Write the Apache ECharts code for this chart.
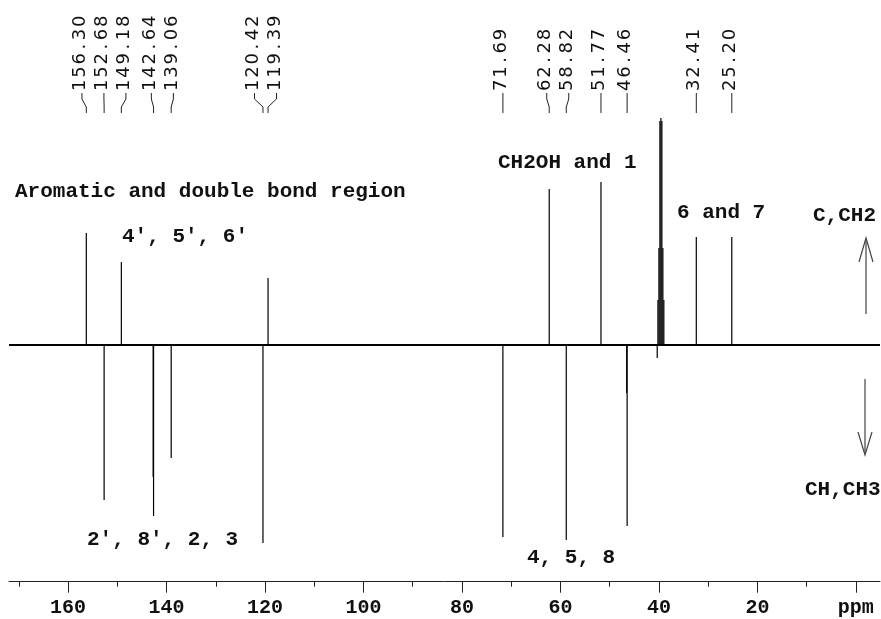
<!DOCTYPE html>
<html><head><meta charset="utf-8">
<script src="https://cdn.jsdelivr.net/npm/echarts@6/dist/echarts.min.js"></script>
<style>html,body{margin:0;padding:0;background:#fff}#c{width:881px;height:619px}</style>
</head><body><div id="c"></div>
<script>
// ---- data ----
const xMinPpm = -4.9, xMaxPpm = 172.0;
const majorTicks = [160, 140, 120, 100, 80, 60, 40, 20, 0];
const minorTicks = [170, 150, 130, 110, 90, 70, 50, 30, 10];
const peakPpm    = [156.30, 152.68, 149.18, 142.72, 142.64, 139.06, 120.42, 119.39, 71.69, 62.28, 58.82, 51.77, 46.55, 46.46,
                    40.35, 40.20, 40.00, 39.80, 39.60, 39.40, 39.20, 39.00, 32.41, 25.20];
const peakHeight = [112, -155, 83, -132, -171, -113, -198, 67, -192, 156, -195, 163, -48, -181,
                    -13, 45, 97, 224, 227, 224, 97, 45, 108, 108];
const labelTexts = ['156.30', '152.68', '149.18', '142.64', '139.06', '120.42', '119.39',
                    '71.69', '62.28', '58.82', '51.77', '46.46', '32.41', '25.20'];
const annotationTexts = ['Aromatic and double bond region', '4\u2032, 5\u2032, 6\u2032', 'CH2OH and 1', '6 and 7',
                         'C,CH2', '2\u2032, 8\u2032, 2, 3', '4, 5, 8', 'CH,CH3'];

// ---- layout (pixels) ----
const annotationPos = [[15, 192], [122, 237], [498, 163], [677, 213], [813, 216], [87, 540], [527, 558], [805, 490]];

const chart = echarts.init(document.getElementById('c'), null, {renderer: 'canvas'});
const gridRect = {left: 9, right: 1, top: 100, height: 481.7};
const yMin = -236.7, yMax = 245;

const peakData = peakPpm.map((p, i) => [p, peakHeight[i]]);

const option = {
  animation: false,
  backgroundColor: '#fff',
  grid: [Object.assign({}, gridRect), Object.assign({}, gridRect)],
  xAxis: [{
    type: 'value', gridIndex: 0, min: xMinPpm, max: xMaxPpm, inverse: true,
    splitLine: {show: false},
    axisLine: {show: true, onZero: false, lineStyle: {color: '#222', width: 1}},
    axisTick: {show: true, length: 11, customValues: majorTicks, lineStyle: {color: '#222', width: 1}},
    axisLabel: {show: true, customValues: majorTicks, margin: 16, color: '#111',
      fontFamily: 'Liberation Mono', fontWeight: 'bold', fontSize: 20,
      formatter: v => (v === 0 ? 'ppm' : String(v))}
  }, {
    type: 'value', gridIndex: 1, min: xMinPpm, max: xMaxPpm, inverse: true,
    splitLine: {show: false},
    axisLine: {show: false, onZero: false},
    axisTick: {show: true, length: 5, customValues: minorTicks, lineStyle: {color: '#222', width: 1}},
    axisLabel: {show: false}
  }],
  yAxis: [
    {type: 'value', gridIndex: 0, min: yMin, max: yMax, show: false},
    {type: 'value', gridIndex: 1, min: yMin, max: yMax, show: false}
  ],
  series: [{
    type: 'line', xAxisIndex: 0, yAxisIndex: 0, symbol: 'none', silent: true,
    data: [[xMaxPpm, 0], [xMinPpm, 0]],
    lineStyle: {color: '#000', width: 2}
  }, {
    type: 'custom', xAxisIndex: 0, yAxisIndex: 0, silent: true, z: 3,
    data: peakData,
    renderItem: function (params, api) {
      const p = api.value(0), h = api.value(1);
      const a = api.coord([p, 0]), b = api.coord([p, h]);
      return {type: 'line', shape: {x1: a[0], y1: a[1], x2: b[0], y2: b[1]},
        style: {stroke: '#000', lineWidth: 1.2}};
    }
  }]
};
chart.setOption(option);

// ---- peak labels at top ----
function fmt(s) {
  return s.split('').join('\u200A').replace('\u200A.\u200A', '\u2009.\u2009');
}
const items = labelTexts.map(t => ({t, px: chart.convertToPixel({xAxisIndex: 0}, parseFloat(t))}))
  .sort((a, b) => a.px - b.px);
const gap = 22;
const clusters = [];
items.forEach(it => {
  clusters.push({members: [it], sum: it.px});
  while (clusters.length > 1) {
    const c = clusters[clusters.length - 1], pr = clusters[clusters.length - 2];
    const cStart = c.sum / c.members.length - (c.members.length - 1) * gap / 2;
    const pStart = pr.sum / pr.members.length - (pr.members.length - 1) * gap / 2;
    const pEnd = pStart + (pr.members.length - 1) * gap;
    if (pEnd + gap > cStart) {
      pr.members = pr.members.concat(c.members); pr.sum += c.sum; clusters.pop();
    } else break;
  }
});
clusters.forEach(c => {
  const start = c.sum / c.members.length - (c.members.length - 1) * gap / 2;
  c.members.forEach((m, i) => { m.lx = start + i * gap; });
});

const graphics = [];
items.forEach(m => {
  graphics.push({type: 'text', x: m.lx - 1.5, y: 91, rotation: Math.PI / 2,
    style: {text: fmt(m.t), x: 0, y: 0, font: '18px "DejaVu Sans"', fill: '#111',
      textAlign: 'left', textVerticalAlign: 'middle'}});
  graphics.push({type: 'polyline', shape: {points: [[m.lx, 93], [m.lx, 99], [m.px, 107], [m.px, 113]]},
    style: {stroke: '#222', lineWidth: 1, fill: null}});
});

annotationTexts.forEach((t, i) => {
  graphics.push({type: 'text', x: annotationPos[i][0], y: annotationPos[i][1],
    style: {text: t, x: 0, y: 0, font: 'bold 21px "Liberation Mono"', fill: '#111',
      textAlign: 'left', textVerticalAlign: 'middle'}});
});

// arrows
graphics.push({type: 'polyline', shape: {points: [[866, 314], [866, 239]]}, style: {stroke: '#444', lineWidth: 1.2, fill: null}});
graphics.push({type: 'polyline', shape: {points: [[859, 262], [866, 238], [873, 262]]}, style: {stroke: '#444', lineWidth: 1.2, fill: null}});
graphics.push({type: 'polyline', shape: {points: [[865, 379], [865, 454]]}, style: {stroke: '#444', lineWidth: 1.2, fill: null}});
graphics.push({type: 'polyline', shape: {points: [[858, 432], [865, 455], [872, 432]]}, style: {stroke: '#444', lineWidth: 1.2, fill: null}});

chart.setOption({graphic: {elements: graphics}});
</script>
</body></html>
